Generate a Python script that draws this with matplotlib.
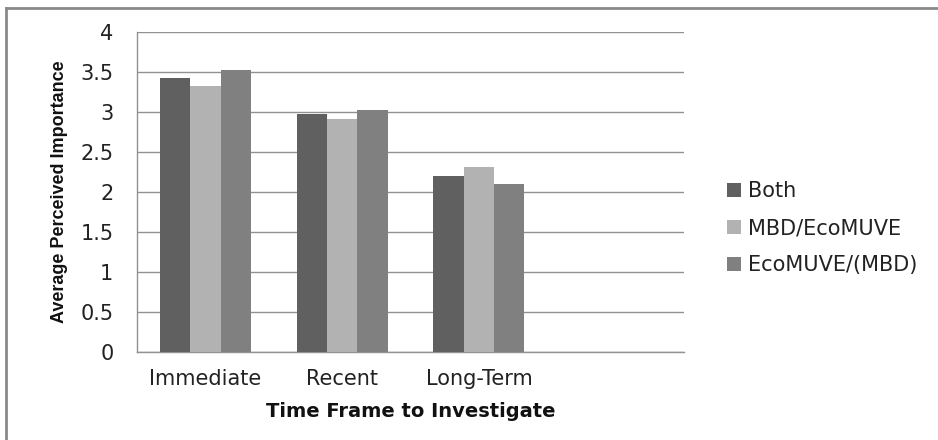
import matplotlib
matplotlib.use("Agg")
import matplotlib.pyplot as plt
import numpy as np
from matplotlib.lines import Line2D

categories = ["Immediate", "Recent", "Long-Term", ""]
series_names = ["Both", "MBD/EcoMUVE", "EcoMUVE/(MBD)"]
both = [3.43, 2.97, 2.20]
mbd_eco = [3.32, 2.91, 2.31]
eco_mbd = [3.53, 3.03, 2.10]
yticks = [0, 0.5, 1, 1.5, 2, 2.5, 3, 3.5, 4]
ytick_labels = ["0", "0.5", "1", "1.5", "2", "2.5", "3", "3.5", "4"]

colors = ["#606060", "#b2b2b2", "#808080"]

W, H = 938, 440
fig = plt.figure(figsize=(W / 100, H / 100), dpi=100)
fig.patch.set_facecolor("white")

ax = fig.add_axes([137 / W, (H - 352) / H, 547 / W, 320 / H])

x = np.arange(3)
bw = 0.222
for i, (vals, name, c) in enumerate(zip([both, mbd_eco, eco_mbd], series_names, colors)):
    ax.bar(x + (i - 1) * bw, vals, width=bw, color=c, label=name, zorder=3)

ax.set_xlim(-0.5, len(categories) - 0.5)
ax.set_ylim(0, 4)
ax.set_yticks(yticks)
ax.set_yticklabels(ytick_labels)
ax.set_xticks(np.arange(len(categories)))
ax.set_xticklabels(categories)
ax.tick_params(axis="both", length=0, labelsize=15, colors="#222222")
ax.tick_params(axis="x", pad=12.5)
ax.tick_params(axis="y", pad=17)
for lab in ax.get_yticklabels():
    lab.set_horizontalalignment("right")

ax.yaxis.grid(True, color="#929292", linewidth=1.0, zorder=0)
ax.set_axisbelow(True)
for s in ["top", "right"]:
    ax.spines[s].set_visible(False)
for s in ["left", "bottom"]:
    ax.spines[s].set_color("#929292")
    ax.spines[s].set_linewidth(1.0)

ax.set_xlabel("Time Frame to Investigate", fontsize=14, fontweight="bold",
              labelpad=9, color="#111111")
ax.set_ylabel("Average Perceived Importance", fontsize=13, fontweight="bold",
              family=["Liberation Sans", "DejaVu Sans"],
              labelpad=9, color="#111111")

leg = ax.legend(loc="center left", bbox_to_anchor=(719 / W, (H - 228) / H),
                bbox_transform=fig.transFigure, frameon=False, fontsize=15,
                handlelength=0.65, handleheight=0.65, handletextpad=0.35,
                labelspacing=0.82, borderaxespad=0)
for t in leg.get_texts():
    t.set_color("#222222")

# outer chart frame (left and top edges visible)
fig.add_artist(Line2D([6 / W, 6 / W], [0, (H - 8.5) / H], transform=fig.transFigure,
                      color="#8a8a8a", linewidth=2))
fig.add_artist(Line2D([6 / W, 1], [(H - 8.5) / H, (H - 8.5) / H], transform=fig.transFigure,
                      color="#8a8a8a", linewidth=2))

fig.savefig("out.png", dpi=100, facecolor="white")
